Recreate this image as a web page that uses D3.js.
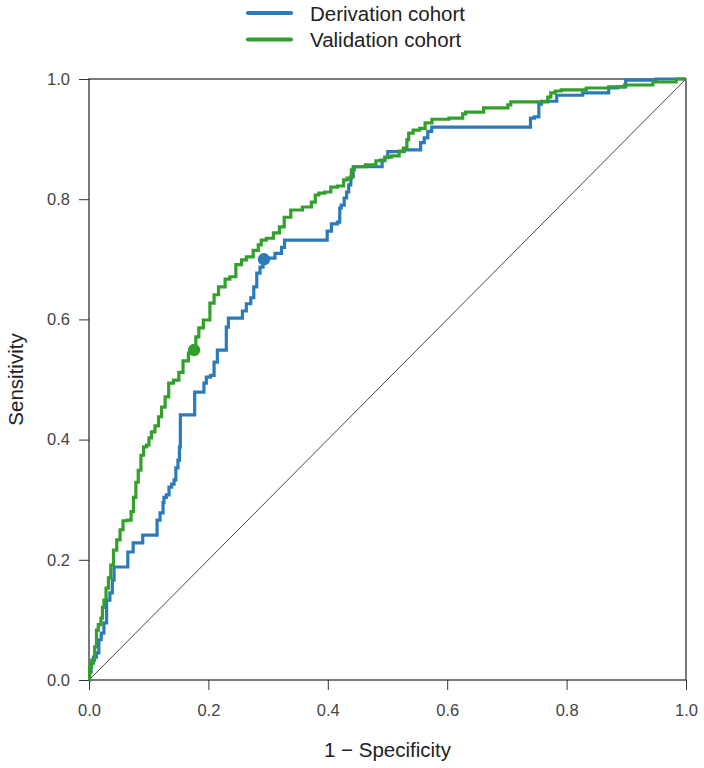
<!DOCTYPE html>
<html>
<head>
<meta charset="utf-8">
<script src="https://cdn.jsdelivr.net/npm/d3@7"></script>
<style>
  body { margin: 0; background: #fff; }
  svg text { font-family: "Liberation Sans", Arial, sans-serif; }
</style>
</head>
<body>
<div id="chart"></div>
<script>
// ROC points (1 - specificity, sensitivity)
const derivFpr = [0, 0.002, 0.005, 0.010, 0.015, 0.018, 0.023, 0.027, 0.032, 0.038, 0.040, 0.044, 0.065, 0.065, 0.074, 0.074, 0.090, 0.090, 0.114, 0.114, 0.119, 0.119, 0.124, 0.124, 0.127, 0.132, 0.136, 0.141, 0.144, 0.147, 0.151, 0.152, 0.154, 0.177, 0.177, 0.191, 0.194, 0.199, 0.208, 0.211, 0.219, 0.229, 0.231, 0.236, 0.256, 0.258, 0.269, 0.273, 0.279, 0.283, 0.290, 0.293, 0.303, 0.320, 0.325, 0.330, 0.398, 0.400, 0.412, 0.420, 0.420, 0.425, 0.430, 0.433, 0.437, 0.440, 0.445, 0.490, 0.492, 0.499, 0.502, 0.554, 0.557, 0.566, 0.569, 0.579, 0.738, 0.741, 0.751, 0.756, 0.760, 0.782, 0.785, 0.869, 0.872, 0.899, 0.899, 1.0];
const derivTpr = [0, 0.013, 0.028, 0.038, 0.045, 0.067, 0.078, 0.095, 0.133, 0.145, 0.166, 0.188, 0.188, 0.213, 0.213, 0.228, 0.228, 0.241, 0.241, 0.266, 0.266, 0.278, 0.278, 0.295, 0.304, 0.308, 0.321, 0.326, 0.333, 0.353, 0.366, 0.388, 0.441, 0.441, 0.479, 0.479, 0.494, 0.504, 0.507, 0.529, 0.549, 0.549, 0.587, 0.602, 0.602, 0.614, 0.626, 0.636, 0.654, 0.677, 0.687, 0.699, 0.702, 0.710, 0.720, 0.732, 0.732, 0.747, 0.759, 0.762, 0.785, 0.790, 0.802, 0.812, 0.824, 0.837, 0.854, 0.854, 0.864, 0.869, 0.879, 0.882, 0.894, 0.902, 0.913, 0.920, 0.920, 0.935, 0.937, 0.958, 0.963, 0.963, 0.973, 0.977, 0.985, 0.987, 0.998, 1.0];

const validFpr = [0, 0.002, 0.007, 0.012, 0.013, 0.018, 0.022, 0.023, 0.027, 0.030, 0.035, 0.038, 0.044, 0.049, 0.055, 0.059, 0.069, 0.072, 0.077, 0.080, 0.085, 0.089, 0.094, 0.099, 0.102, 0.107, 0.114, 0.119, 0.124, 0.131, 0.136, 0.147, 0.154, 0.161, 0.172, 0.176, 0.182, 0.186, 0.197, 0.208, 0.211, 0.223, 0.233, 0.239, 0.253, 0.258, 0.269, 0.281, 0.286, 0.291, 0.303, 0.315, 0.323, 0.331, 0.345, 0.370, 0.375, 0.383, 0.387, 0.403, 0.407, 0.425, 0.428, 0.437, 0.442, 0.447, 0.479, 0.482, 0.494, 0.497, 0.517, 0.522, 0.531, 0.534, 0.537, 0.549, 0.559, 0.567, 0.582, 0.624, 0.628, 0.634, 0.659, 0.663, 0.698, 0.705, 0.708, 0.767, 0.770, 0.777, 0.785, 0.797, 0.869, 0.872, 0.922, 0.967, 1.0];
const validTpr = [0, 0.022, 0.033, 0.055, 0.083, 0.092, 0.103, 0.121, 0.133, 0.153, 0.170, 0.191, 0.216, 0.233, 0.250, 0.265, 0.266, 0.280, 0.304, 0.329, 0.349, 0.374, 0.388, 0.391, 0.403, 0.413, 0.423, 0.438, 0.454, 0.471, 0.494, 0.499, 0.512, 0.531, 0.544, 0.549, 0.571, 0.586, 0.599, 0.627, 0.641, 0.654, 0.667, 0.671, 0.691, 0.699, 0.704, 0.715, 0.724, 0.732, 0.735, 0.744, 0.754, 0.770, 0.782, 0.787, 0.795, 0.807, 0.810, 0.812, 0.820, 0.822, 0.832, 0.835, 0.849, 0.854, 0.857, 0.864, 0.865, 0.870, 0.872, 0.880, 0.885, 0.899, 0.910, 0.915, 0.918, 0.927, 0.933, 0.935, 0.942, 0.945, 0.945, 0.952, 0.952, 0.957, 0.962, 0.962, 0.970, 0.977, 0.980, 0.982, 0.985, 0.987, 0.990, 0.995, 1.0];

// best cut-off points
const cutFpr = [0.293, 0.176];
const cutTpr = [0.700, 0.549];

const seriesNames = ["Derivation cohort", "Validation cohort"];
const seriesColors = ["#2b7bba", "#33a02c"];
const tickValues = [0, 0.2, 0.4, 0.6, 0.8, 1.0];

const W = 704, H = 768;
const margin = { top: 79, right: 18, bottom: 88, left: 89 };
const width = W - margin.left - margin.right;
const height = H - margin.top - margin.bottom;

const svg = d3.select("#chart").append("svg")
  .attr("width", W)
  .attr("height", H);

const g = svg.append("g")
  .attr("transform", `translate(${margin.left},${margin.top})`);

const x = d3.scaleLinear().domain([0, 1]).range([0, width]);
const y = d3.scaleLinear().domain([0, 1]).range([height, 0]);

// axes
const xAxis = g.append("g")
  .attr("transform", `translate(0,${height})`)
  .call(d3.axisBottom(x).tickValues(tickValues).tickFormat(d3.format(".1f")).tickSize(10).tickPadding(14));
const yAxis = g.append("g")
  .call(d3.axisLeft(y).tickValues(tickValues).tickFormat(d3.format(".1f")).tickSize(10).tickPadding(9));

[xAxis, yAxis].forEach(a => {
  a.select(".domain").remove();
  a.selectAll("line").attr("stroke", "#333");
  a.selectAll("text").attr("fill", "#444").style("font-size", "16.5px");
});

// box
g.append("rect")
  .attr("width", width)
  .attr("height", height)
  .attr("fill", "none")
  .attr("stroke", "#222")
  .attr("stroke-width", 1.2);

// chance line
g.append("line")
  .attr("x1", x(0)).attr("y1", y(0))
  .attr("x2", x(1)).attr("y2", y(1))
  .attr("stroke", "#333")
  .attr("stroke-width", 0.9);

// step curves, like the ROC plot
const line = d3.line()
  .curve(d3.curveStep)
  .x(d => x(d[0]))
  .y(d => y(d[1]));

const curves = [
  d3.zip(derivFpr, derivTpr),
  d3.zip(validFpr, validTpr)
];

curves.forEach((pts, i) => {
  g.append("path")
    .datum(pts)
    .attr("fill", "none")
    .attr("stroke", seriesColors[i])
    .attr("stroke-width", 3.2)
    .attr("d", line);
});

g.selectAll(".cut")
  .data(d3.zip(cutFpr, cutTpr))
  .enter()
  .append("circle")
  .attr("class", "cut")
  .attr("cx", d => x(d[0]))
  .attr("cy", d => y(d[1]))
  .attr("r", 6.2)
  .attr("fill", (d, i) => seriesColors[i]);

// axis titles
svg.append("text")
  .attr("x", margin.left + width / 2)
  .attr("y", 757)
  .attr("text-anchor", "middle")
  .attr("fill", "#222")
  .style("font-size", "20.5px")
  .text("1 \u2212 Specificity");

svg.append("text")
  .attr("transform", `translate(23,${margin.top + height / 2}) rotate(-90)`)
  .attr("text-anchor", "middle")
  .attr("fill", "#222")
  .style("font-size", "20.5px")
  .text("Sensitivity");

// legend
const legend = svg.selectAll(".legend")
  .data(seriesNames)
  .enter()
  .append("g")
  .attr("class", "legend")
  .attr("transform", (d, i) => `translate(248,${13 + i * 26.5})`);

legend.append("line")
  .attr("x1", 0).attr("x2", 43)
  .attr("stroke", (d, i) => seriesColors[i])
  .attr("stroke-width", 4.2)
  .attr("stroke-linecap", "round");

legend.append("text")
  .attr("x", 62)
  .attr("y", 7.5)
  .attr("fill", "#222")
  .style("font-size", "20.5px")
  .text(d => d);
</script>
</body>
</html>
